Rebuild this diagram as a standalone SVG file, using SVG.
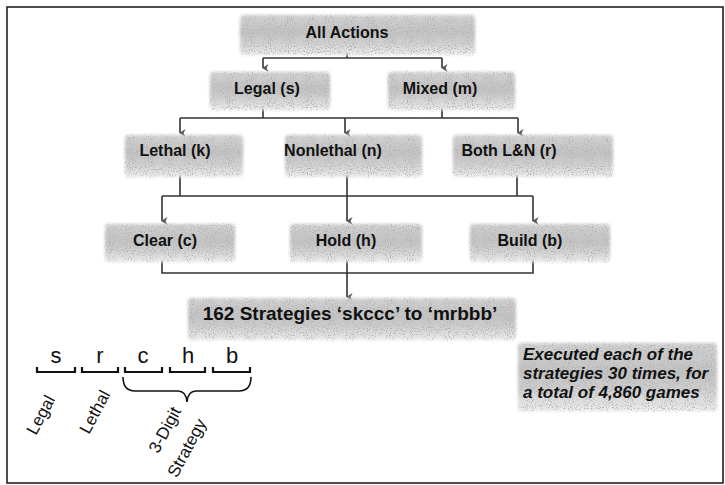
<svg xmlns="http://www.w3.org/2000/svg" width="725" height="485" viewBox="0 0 725 485">
<style>
  .nt { font-family: "Liberation Sans", Arial, sans-serif; font-weight: bold; font-size: 16px; fill: #111; text-anchor: middle; dominant-baseline: central; }
  .big { font-size: 19px; }
  .note { font-family: "Liberation Sans", Arial, sans-serif; font-weight: bold; font-style: italic; font-size: 17px; fill: #111; }
  .box { fill: url(#g); filter: url(#grain); }
  .conn { fill: none; stroke: #333; stroke-width: 1.6; }
  .letter { font-family: "Liberation Sans", Arial, sans-serif; font-size: 22px; fill: #111; text-anchor: middle; }
  .lab { font-family: "Liberation Sans", Arial, sans-serif; font-size: 17px; fill: #111; text-anchor: middle; dominant-baseline: central; }
  .brk { fill: none; stroke: #111; stroke-width: 2.2; }
  .brace { fill: none; stroke: #111; stroke-width: 1.6; }
</style>
<defs>
  <linearGradient id="g" x1="0" y1="0" x2="0" y2="1">
    <stop offset="0" stop-color="#d2d2d2"/>
    <stop offset="0.45" stop-color="#c2c2c2"/>
    <stop offset="0.7" stop-color="#d0d0d0"/>
    <stop offset="1" stop-color="#ececec"/>
  </linearGradient>
  <filter id="grain" x="-5%" y="-15%" width="110%" height="130%">
    <feGaussianBlur in="SourceGraphic" stdDeviation="1.5" result="b"/>
    <feTurbulence type="fractalNoise" baseFrequency="0.95" numOctaves="1" seed="4" result="n"/>
    <feColorMatrix in="n" type="matrix" values="0 0 0 0 0.45  0 0 0 0 0.45  0 0 0 0 0.45  6 0 0 0 -3.2" result="dots"/>
    <feComposite in="dots" in2="b" operator="in" result="d2"/>
    <feMerge><feMergeNode in="b"/><feMergeNode in="d2"/></feMerge>
  </filter>
  <marker id="arr" viewBox="0 0 10 10" refX="5" refY="9" markerWidth="8" markerHeight="8" orient="auto-start-reverse" markerUnits="userSpaceOnUse">
    <path d="M0,2 L5,10 L10,2 L5,4.5 Z" fill="#555"/>
  </marker>
</defs>

<rect x="7" y="7" width="716" height="476" fill="#fff" stroke="#222" stroke-width="1.6"/>

<g id="connectors">
  <path class="conn" d="M347,50 V58 M263,58 H442"/>
  <path class="conn" d="M263,58 V68" marker-end="url(#arr)"/>
  <path class="conn" d="M442,58 V68" marker-end="url(#arr)"/>
  <path class="conn" d="M263,104 V118 M442,104 V118 M180,118 H518"/>
  <path class="conn" d="M180,118 V133" marker-end="url(#arr)"/>
  <path class="conn" d="M345,118 V133" marker-end="url(#arr)"/>
  <path class="conn" d="M518,118 V133" marker-end="url(#arr)"/>
  <path class="conn" d="M180,168 V196 M347,168 V196 M517,168 V196 M162,196 H533"/>
  <path class="conn" d="M162,196 V221" marker-end="url(#arr)"/>
  <path class="conn" d="M347,196 V221" marker-end="url(#arr)"/>
  <path class="conn" d="M533,196 V221" marker-end="url(#arr)"/>
  <path class="conn" d="M162,254 V273 H533 V254"/>
  <path class="conn" d="M347,254 V297" marker-end="url(#arr)"/>
</g>

<g id="n-all">
  <rect class="box" x="240" y="15" width="235" height="40" rx="4"/>
  <text class="nt" x="347" y="32">All Actions</text>
</g>
<g id="n-legal">
  <rect class="box" x="210" y="72" width="120" height="38" rx="4"/>
  <text class="nt" x="267" y="88">Legal (s)</text>
</g>
<g id="n-mixed">
  <rect class="box" x="388" y="72" width="127" height="38" rx="4"/>
  <text class="nt" x="440" y="88">Mixed (m)</text>
</g>
<g id="n-lethal">
  <rect class="box" x="125" y="135" width="118" height="42" rx="4"/>
  <text class="nt" x="175" y="150">Lethal (k)</text>
</g>
<g id="n-nonlethal">
  <rect class="box" x="285" y="135" width="137" height="42" rx="4"/>
  <text class="nt" x="333" y="150">Nonlethal (n)</text>
</g>
<g id="n-both">
  <rect class="box" x="453" y="135" width="160" height="42" rx="4"/>
  <text class="nt" x="509" y="150">Both L&amp;N (r)</text>
</g>
<g id="n-clear">
  <rect class="box" x="105" y="224" width="130" height="38" rx="4"/>
  <text class="nt" x="165" y="240">Clear (c)</text>
</g>
<g id="n-hold">
  <rect class="box" x="290" y="224" width="132" height="38" rx="4"/>
  <text class="nt" x="346" y="240">Hold (h)</text>
</g>
<g id="n-build">
  <rect class="box" x="470" y="224" width="140" height="38" rx="4"/>
  <text class="nt" x="530" y="240">Build (b)</text>
</g>
<g id="n-strategies">
  <rect class="box" x="188" y="298" width="328" height="42" rx="4"/>
  <text class="nt big" x="350" y="313">162 Strategies ‘skccc’ to ‘mrbbb’</text>
</g>
<g id="n-note">
  <rect class="box" x="518" y="343" width="199" height="68" rx="3"/>
  <text class="note" x="523" y="360">Executed each of the</text>
  <text class="note" x="523" y="379">strategies 30 times, for</text>
  <text class="note" x="523" y="398">a total of 4,860 games</text>
</g>

<g id="legend">
  <text class="letter" x="56" y="363">s</text>
  <text class="letter" x="100" y="363">r</text>
  <text class="letter" x="143" y="363">c</text>
  <text class="letter" x="188" y="363">h</text>
  <text class="letter" x="232" y="363">b</text>
  <path class="brk" d="M37,367 V372 H75 V367 M82,367 V372 H118 V367 M125,367 V372 H162 V367 M170,367 V372 H205 V367 M213,367 V372 H250 V367"/>
  <path class="brace" d="M123,377 Q123,391 135,391 H178 Q186,391 187,402 Q188,391 196,391 H239 Q251,391 251,377"/>
  <text class="lab" transform="rotate(-62 41 415)" x="41" y="415">Legal</text>
  <text class="lab" transform="rotate(-62 95 412)" x="95" y="412">Lethal</text>
  <text class="lab" transform="rotate(-62 165 430)" x="165" y="430">3-Digit</text>
  <text class="lab" transform="rotate(-62 187 448)" x="187" y="448">Strategy</text>
</g>
</svg>
